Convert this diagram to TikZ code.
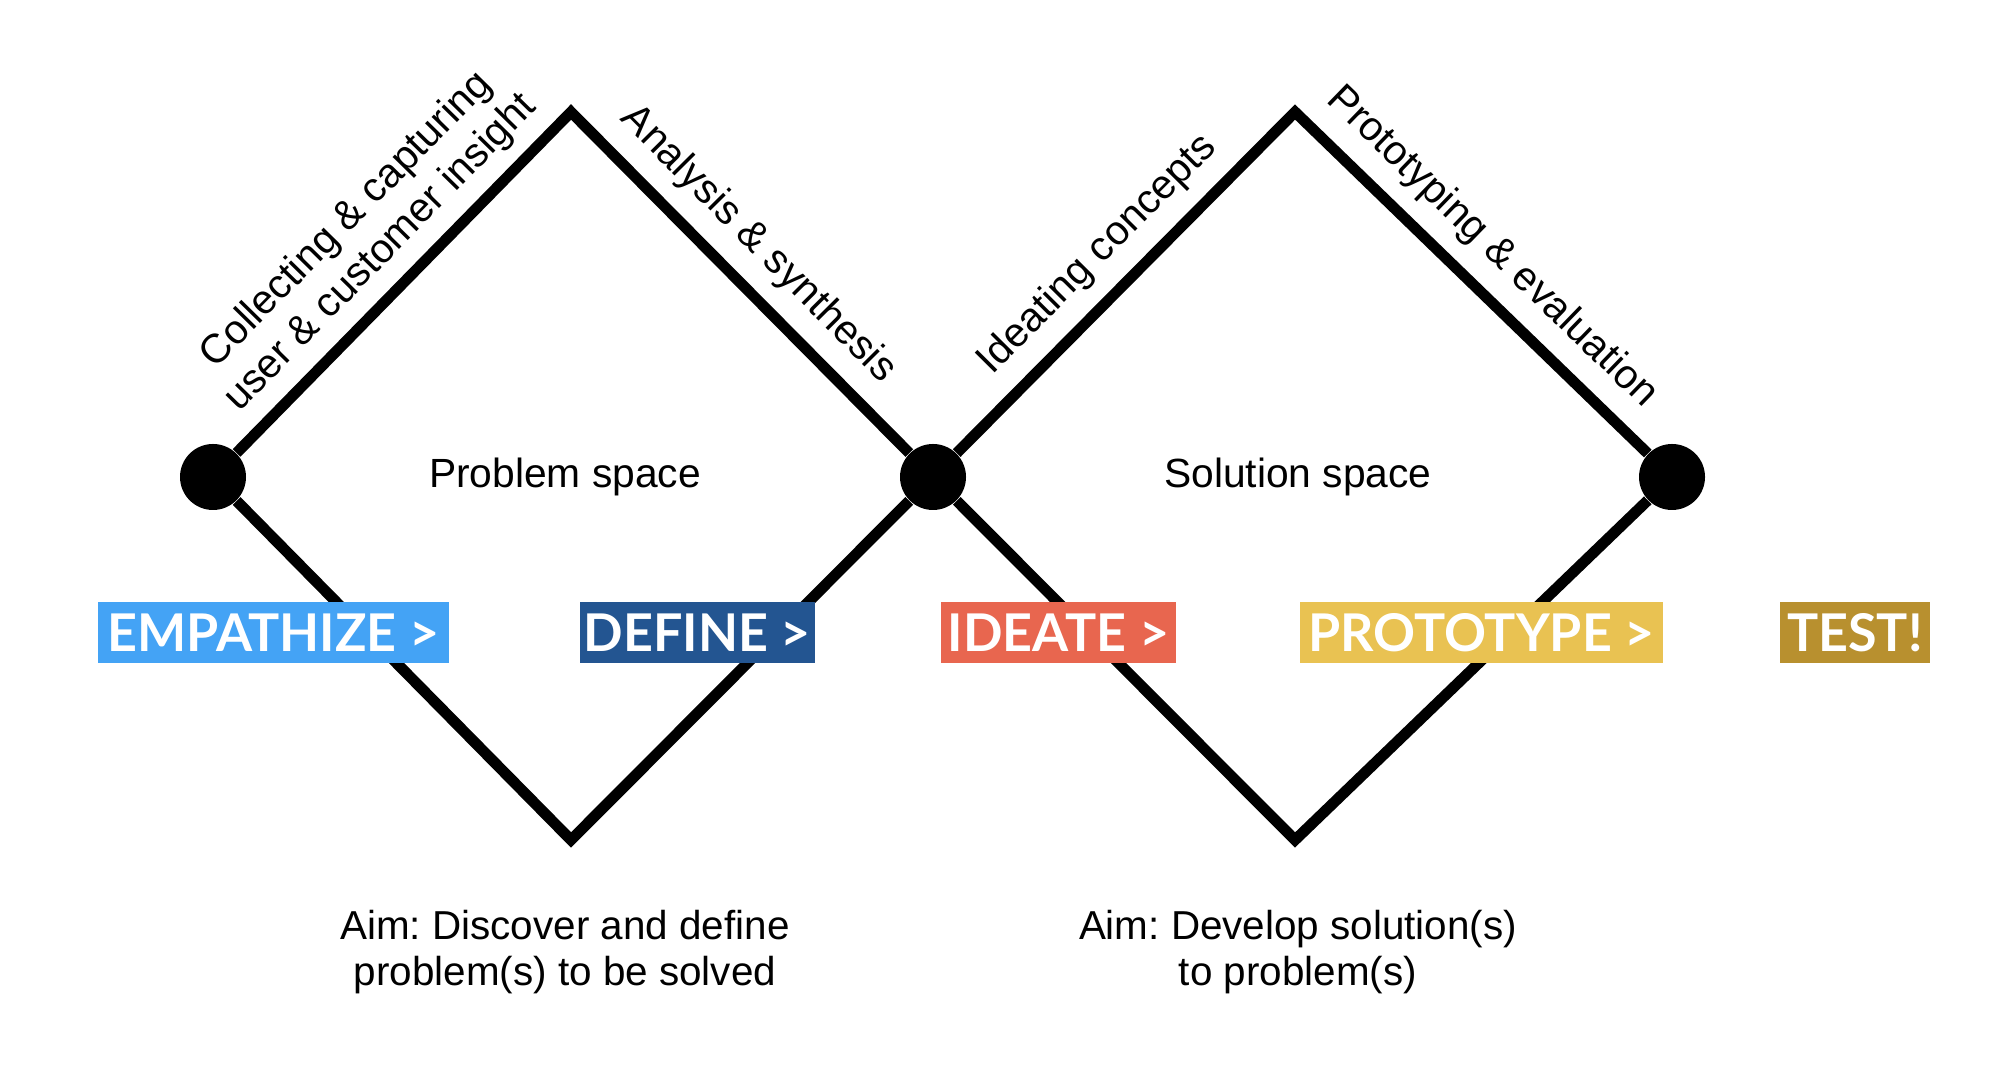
\documentclass[tikz,border=0pt]{standalone}
\usepackage{fontspec}
\setmainfont{Liberation Sans}
\newfontfamily\latofont{Lato}
\usepackage{xcolor}
\usetikzlibrary{positioning}
\frenchspacing

\definecolor{empblue}{HTML}{44A3F5}
\definecolor{defblue}{HTML}{235591}
\definecolor{idered}{HTML}{E8664F}
\definecolor{proyellow}{HTML}{E9C252}
\definecolor{testgold}{HTML}{B8902F}

\begin{document}
\begin{tikzpicture}[
    edge/.style={line width=3.1pt, draw=black, line join=miter},
    dot/.style={circle, fill=black, minimum size=0.66cm, inner sep=0pt},
    phase/.style={rectangle, minimum height=0.61cm, inner sep=0pt, text=white, font=\latofont\bfseries\fontsize{14.8}{18}\selectfont},
    note/.style={inner sep=0pt, align=center, font=\fontsize{11.6}{13.5}\selectfont},
    aim/.style={inner sep=0pt, align=center, font=\fontsize{11.5}{13}\selectfont}
]
\useasboundingbox (0,0) rectangle (20.04,10.92);
% the two diamonds
\node (start) [dot] at (2.13,6.15) {};
\node (mid) [dot] at (9.33,6.15) {};
\node (end) [dot] at (16.72,6.15) {};
\coordinate (ptop) at (5.71,9.80);
\coordinate (pbot) at (5.71,2.52);
\coordinate (stop) at (12.95,9.80);
\coordinate (sbot) at (12.95,2.52);
\draw [edge] (start) -- (ptop) -- (mid);
\draw [edge] (start) -- (pbot) -- (mid);
\draw [edge] (mid) -- (stop) -- (end);
\draw [edge] (mid) -- (sbot) -- (end);
% labels along the edges
\path (start) -- (ptop) node [note, sloped, above=0.17cm, pos=0.51] (collect) {Collecting \& capturing\\user \& customer insight};
\path (ptop) -- (mid) node [note, sloped, above=0.2cm, pos=0.47] (analysis) {Analysis \& synthesis};
\path (mid) -- (stop) node [note, sloped, above=0.2cm, pos=0.50] (ideating) {Ideating concepts};
\path (stop) -- (end) node [note, sloped, above=0.2cm, pos=0.48] (prototyping) {Prototyping \& evaluation};
\node (pspace) [note] at (5.65,6.15) {Problem space};
\node (sspace) [note] at (12.98,6.15) {Solution space};
% phases
\node (empathize) [phase, fill=empblue, minimum width=3.51cm] at (2.735,4.595) {EMPATHIZE >};
\node (define) [phase, fill=defblue, minimum width=2.35cm] at (6.975,4.595) {DEFINE >};
\node (ideate) [phase, fill=idered, minimum width=2.35cm] at (10.585,4.595) {IDEATE >};
\node (prototype) [phase, fill=proyellow, minimum width=3.63cm] at (14.815,4.595) {PROTOTYPE >};
\node (test) [phase, fill=testgold, minimum width=1.50cm] at (18.55,4.595) {TEST!};
% aims
\node (paim) [aim] at (5.65,1.40) {Aim: Discover and define\\problem(s) to be solved};
\node (saim) [aim] at (12.98,1.40) {Aim: Develop solution(s)\\to problem(s)};
\end{tikzpicture}
\end{document}
